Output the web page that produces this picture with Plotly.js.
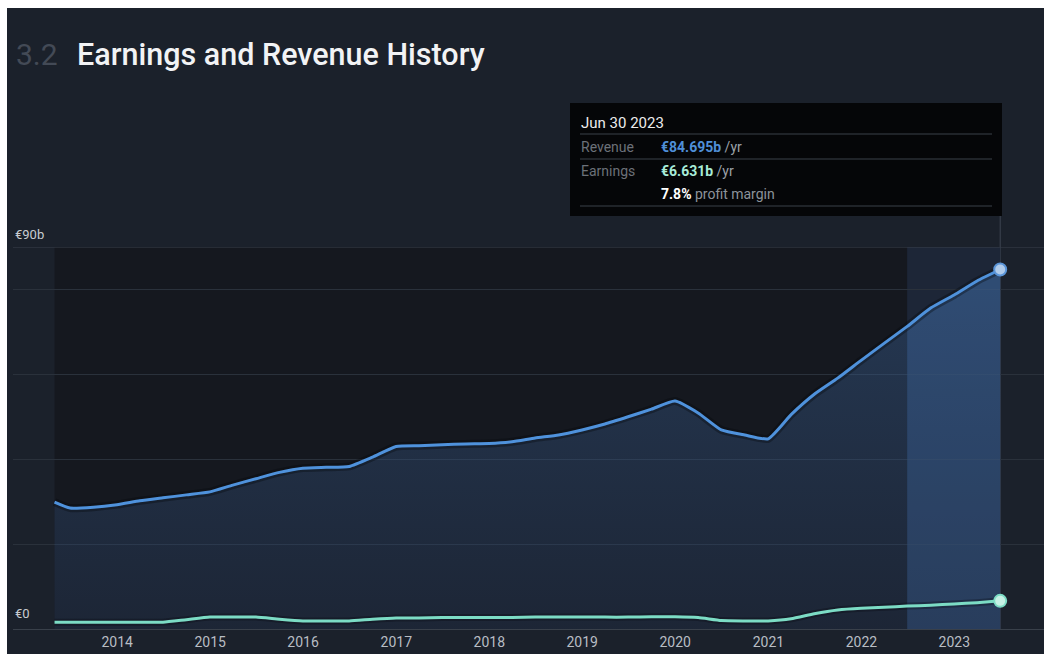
<!DOCTYPE html>
<html>
<head>
<meta charset="utf-8">
<script src="https://cdn.plot.ly/plotly-3.0.1.min.js"></script>
<style>
  html, body { margin: 0; padding: 0; background: #ffffff; width: 1044px; height: 654px; overflow: hidden; }
  #chart { position: absolute; left: 7px; top: 8px; width: 1037px; height: 646px; }
</style>
</head>
<body>
<div id="chart"></div>
<script>
// ---- data ----
const dates = [
  '2013-04-30','2013-06-30','2013-09-30','2013-12-31',
  '2014-03-31','2014-06-30','2014-09-30','2014-12-31',
  '2015-03-31','2015-06-30','2015-09-30','2015-12-31',
  '2016-03-31','2016-06-30','2016-09-30','2016-12-31',
  '2017-03-31','2017-06-30','2017-09-30','2017-12-31',
  '2018-03-31','2018-06-30','2018-09-30','2018-12-31',
  '2019-03-31','2019-06-30','2019-09-30','2019-12-31',
  '2020-03-31','2020-06-30','2020-09-30','2020-12-31',
  '2021-03-31','2021-06-30','2021-09-30','2021-12-31',
  '2022-03-31','2022-06-30','2022-09-30','2022-12-31',
  '2023-03-31','2023-06-30'
];
// revenue, € billions
const revenue = [
  29.9, 28.5, 28.7, 29.3,
  30.2, 30.9, 31.6, 32.3,
  33.9, 35.4, 36.9, 37.9,
  38.1, 38.3, 40.5, 43.0,
  43.2, 43.4, 43.6, 43.7,
  44.1, 45.0, 45.7, 46.9,
  48.3, 50.0, 51.8, 53.7,
  50.9, 46.9, 45.7, 44.8,
  50.5, 55.3, 59.1, 63.3,
  67.3, 71.3, 75.6, 78.7,
  82.0, 84.695
];
// earnings, € billions
const earnings = [
  1.6, 1.6, 1.6, 1.6,
  1.6, 1.6, 2.2, 2.8,
  2.8, 2.8, 2.3, 1.9,
  1.9, 1.9, 2.3, 2.6,
  2.6, 2.7, 2.7, 2.7,
  2.7, 2.8, 2.8, 2.8,
  2.8, 2.8, 2.9, 2.9,
  2.7, 2.0, 1.9, 1.9,
  2.4, 3.6, 4.5, 4.9,
  5.1, 5.4, 5.6, 5.9,
  6.2, 6.631
];
const yearTicks = ['2014-01-01','2015-01-01','2016-01-01','2017-01-01','2018-01-01',
                   '2019-01-01','2020-01-01','2021-01-01','2022-01-01','2023-01-01'];
const yearLabels = ['2014','2015','2016','2017','2018','2019','2020','2021','2022','2023'];
const yTickVals = [0, 20, 40, 60, 80, 90];
const yLabelTexts = ['€0', '€90b'];
const highlightStart = '2022-06-30';
const tipDate = 'Jun 30 2023';
const tipRevenue = '€84.695b';
const tipEarnings = '€6.631b';
const tipMargin = '7.8%';

// ---- layout helpers (image pixel -> paper coordinates) ----
const px = x => (x - 13) / 1031;
const py = y => (629 - y) / 382;

const hi = dates.indexOf(highlightStart);
const last = dates.length - 1;
const FONT = 'Roboto, "Noto Sans", sans-serif';

const traces = [
  { // main revenue fill
    x: dates, y: revenue, type: 'scatter', mode: 'lines',
    line: { width: 0, shape: 'spline', smoothing: 0.5, color: 'rgba(0,0,0,0)' },
    fill: 'tozeroy',
    fillgradient: { type: 'vertical', colorscale: [[0, 'rgba(40,58,88,0.40)'], [1, 'rgba(58,98,150,0.45)']] },
    hoverinfo: 'skip', showlegend: false
  },
  { // highlighted last-year fill
    x: dates.slice(hi), y: revenue.slice(hi), type: 'scatter', mode: 'lines',
    line: { width: 0, shape: 'spline', smoothing: 0.5, color: 'rgba(0,0,0,0)' },
    fill: 'tozeroy', fillcolor: 'rgba(70,120,180,0.22)',
    hoverinfo: 'skip', showlegend: false
  },
  { // revenue shadow
    x: dates, y: revenue, type: 'scatter', mode: 'lines',
    line: { width: 8, shape: 'spline', smoothing: 0.5, color: 'rgba(5,8,12,0.35)' },
    hoverinfo: 'skip', showlegend: false
  },
  { // revenue line
    x: dates, y: revenue, type: 'scatter', mode: 'lines',
    line: { width: 3, shape: 'spline', smoothing: 0.5, color: '#4f92dc' },
    hoverinfo: 'skip', showlegend: false
  },
  { // earnings shadow
    x: dates, y: earnings, type: 'scatter', mode: 'lines',
    line: { width: 7, shape: 'spline', smoothing: 0.5, color: 'rgba(5,8,12,0.3)' },
    hoverinfo: 'skip', showlegend: false
  },
  { // earnings line
    x: dates, y: earnings, type: 'scatter', mode: 'lines',
    line: { width: 3, shape: 'spline', smoothing: 0.5, color: '#7cdcc5' },
    hoverinfo: 'skip', showlegend: false
  },
  { // end markers
    x: [dates[last], dates[last]], y: [revenue[last], earnings[last]],
    type: 'scatter', mode: 'markers',
    marker: { size: 12, color: ['#b0cbea', '#c6f1e5'], line: { width: 2, color: ['#5b95d8', '#7cdcc5'] } },
    hoverinfo: 'skip', showlegend: false
  }
];

const shapes = [
  // dark plot background above the curve
  { type: 'rect', layer: 'below', xref: 'x', yref: 'y', x0: dates[0], x1: highlightStart, y0: 0, y1: 90,
    fillcolor: '#15181f', line: { width: 0 } },
  // highlight band background
  { type: 'rect', layer: 'below', xref: 'x', yref: 'y', x0: highlightStart, x1: dates[last], y0: 0, y1: 90,
    fillcolor: '#1d2637', line: { width: 0 } },
  // top (90b) gridline, lighter
  { type: 'line', layer: 'above', xref: 'paper', yref: 'y', x0: 0, x1: 1, y0: 90, y1: 90,
    line: { color: '#3a414c', width: 1 } },
  // crosshair
  { type: 'line', layer: 'between', xref: 'x', yref: 'paper', x0: dates[last], x1: dates[last], y0: 0, y1: py(214),
    line: { color: '#3d4551', width: 1 } },
  // tooltip box
  { type: 'rect', layer: 'above', xref: 'paper', yref: 'paper', x0: px(570), x1: px(1002), y0: py(216), y1: py(103),
    fillcolor: '#050608', line: { width: 0 } },
  // tooltip separators
  { type: 'line', layer: 'above', xref: 'paper', yref: 'paper', x0: px(580), x1: px(992), y0: py(134), y1: py(134),
    line: { color: '#3b4048', width: 1 } },
  { type: 'line', layer: 'above', xref: 'paper', yref: 'paper', x0: px(580), x1: px(992), y0: py(159), y1: py(159),
    line: { color: '#3b4048', width: 1 } },
  { type: 'line', layer: 'above', xref: 'paper', yref: 'paper', x0: px(580), x1: px(992), y0: py(206), y1: py(206),
    line: { color: '#3b4048', width: 1 } }
];

function ann(text, x, y, size, color, extra) {
  return Object.assign({
    text: text, xref: 'paper', yref: 'paper', x: px(x), y: py(y),
    xanchor: 'left', yanchor: 'middle', showarrow: false,
    font: { family: FONT, size: size, color: color }
  }, extra || {});
}

const annotations = [
  ann('3.2', 14, 54, 30, '#434a56'),
  ann('Earnings and Revenue History', 75, 54, 30, '#f2f3f5', { font: { family: FONT, size: 30.5, color: '#f2f3f5', weight: 500 } }),
  ann(yLabelTexts[1], 13, 234, 13, '#c9ccd1'),
  ann(yLabelTexts[0], 13, 613, 13, '#c9ccd1'),
  ann(tipDate, 579, 123, 15, '#ececec'),
  ann('Revenue', 579, 147, 14, '#6c7179'),
  ann('<b><span style="color:#4f8fd8">' + tipRevenue + '</span></b> /yr', 659, 147, 14, '#9ca1a8'),
  ann('Earnings', 579, 171, 14, '#6c7179'),
  ann('<b><span style="color:#a8ecd8">' + tipEarnings + '</span></b> /yr', 659, 171, 14, '#9ca1a8'),
  ann('<b><span style="color:#ffffff">' + tipMargin + '</span></b> profit margin', 659, 194, 14, '#8d939b')
];

const layout = {
  width: 1037, height: 646,
  margin: { l: 6, r: 0, t: 239, b: 25, pad: 0 },
  paper_bgcolor: '#1b212b',
  plot_bgcolor: 'rgba(0,0,0,0)',
  showlegend: false,
  font: { family: FONT, color: '#b8bdc4' },
  xaxis: {
    type: 'date', range: ['2012-11-18', '2023-12-19'],
    tickvals: yearTicks, ticktext: yearLabels,
    tickfont: { family: FONT, size: 14, color: '#b8bdc4' },
    ticklabelstandoff: 3,
    showgrid: false, zeroline: false, showline: false, ticks: '', fixedrange: true
  },
  yaxis: {
    range: [0, 90], tickvals: yTickVals, showticklabels: false,
    showgrid: true, gridcolor: '#2a313b', gridwidth: 1,
    zeroline: true, zerolinecolor: '#39404a', zerolinewidth: 1,
    showline: false, ticks: '', fixedrange: true
  },
  shapes: shapes,
  annotations: annotations,
  hovermode: false
};

Plotly.newPlot('chart', traces, layout, { displayModeBar: false, staticPlot: true });
</script>
</body>
</html>
